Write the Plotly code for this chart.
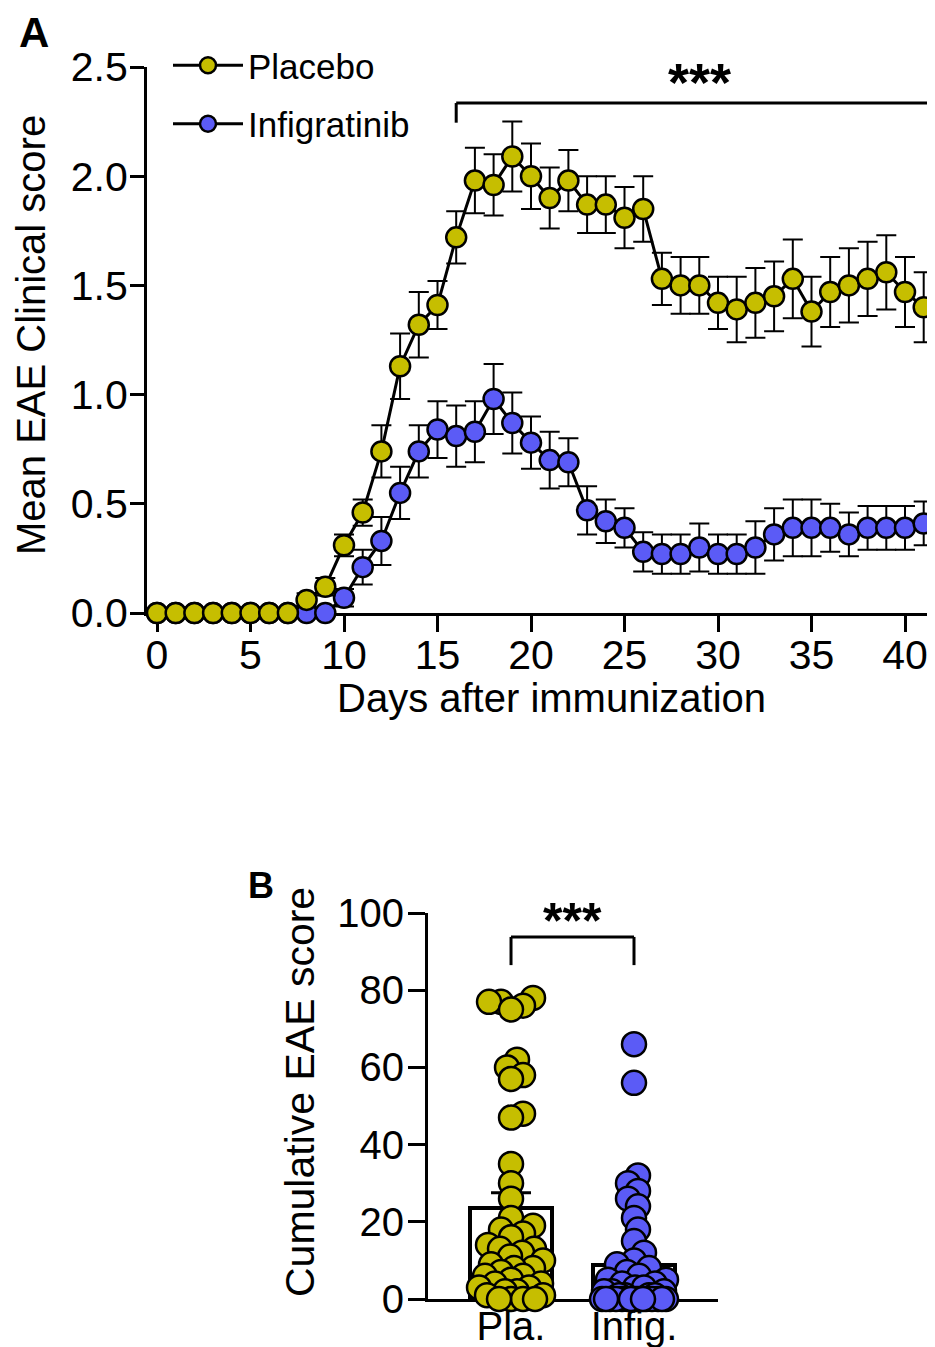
import numpy as np
import plotly.graph_objects as go

# ---------------- Data: panel A (mean clinical score +/- SEM) ----------------
days = list(range(42))
placebo_mean = [0, 0, 0, 0, 0, 0, 0, 0,
                0.06, 0.12, 0.31, 0.46, 0.74, 1.13, 1.32, 1.41, 1.72, 1.98, 1.96, 2.09,
                2.00, 1.90, 1.98, 1.87, 1.87, 1.81, 1.85, 1.53, 1.50, 1.50, 1.42, 1.39,
                1.42, 1.45, 1.53, 1.38, 1.47, 1.50, 1.53, 1.56, 1.47, 1.40]
placebo_sem = [0, 0, 0, 0, 0, 0, 0, 0,
               0.03, 0.04, 0.05, 0.06, 0.12, 0.15, 0.15, 0.11, 0.12, 0.15, 0.14, 0.16,
               0.15, 0.14, 0.14, 0.13, 0.13, 0.14, 0.15, 0.12, 0.13, 0.13, 0.12, 0.15,
               0.16, 0.16, 0.18, 0.16, 0.16, 0.17, 0.17, 0.17, 0.16, 0.16]
infig_mean = [0, 0, 0, 0, 0, 0, 0, 0, 0, 0,
              0.07, 0.21, 0.33, 0.55, 0.74, 0.84, 0.81, 0.83, 0.98, 0.87,
              0.78, 0.70, 0.69, 0.47, 0.42, 0.39, 0.28, 0.27, 0.27, 0.30, 0.27, 0.27,
              0.30, 0.36, 0.39, 0.39, 0.39, 0.36, 0.39, 0.39, 0.39, 0.41]
infig_sem = [0, 0, 0, 0, 0, 0, 0, 0, 0, 0,
             0.04, 0.08, 0.11, 0.12, 0.12, 0.13, 0.14, 0.14, 0.16, 0.14,
             0.12, 0.13, 0.11, 0.11, 0.10, 0.09, 0.09, 0.09, 0.09, 0.11, 0.09, 0.09,
             0.12, 0.12, 0.13, 0.13, 0.11, 0.10, 0.10, 0.10, 0.10, 0.10]
x_ticks_a = [0, 5, 10, 15, 20, 25, 30, 35, 40]
y_ticks_a = [0.0, 0.5, 1.0, 1.5, 2.0, 2.5]
sig_days = [16, 43]          # bracket span for *** in panel A

# ---------------- Data: panel B (cumulative score per animal) ----------------
groups = ["Pla.", "Infig."]
placebo_cum = [78, 77, 77, 76, 75, 62, 60, 58, 57, 48, 47, 35, 30, 26,
               21, 19, 18, 17, 16, 14, 13, 13, 12, 11, 10, 9, 8, 8, 7, 6, 6, 5,
               4, 4, 3, 3, 2, 2, 1, 1, 0, 0, 0, 0]
infig_cum = [66, 56, 32, 30, 28, 26, 24, 21, 18, 15, 12, 10, 9, 8, 7, 6, 5, 5,
             4, 4, 3, 3, 2, 2, 2, 1, 1, 1, 1,
             0, 0, 0, 0, 0, 0, 0, 0, 0, 0, 0, 0, 0, 0, 0, 0]
y_ticks_b = [0, 20, 40, 60, 80, 100]

# ---------------- Styling ----------------
W, H = 935, 1347
OFF = 8   # page body margin compensation
FONT = "Liberation Sans, Arial, sans-serif"
PLACEBO_COLOR = "#C6BE00"
INFIG_COLOR = "#5B5BF6"


def px_x(p):
    return (p - OFF) / W


def px_y(p):
    return 1 - (p - OFF) / H


# geometry of panels (target pixels)
A_left, A_right, A_top, A_bottom = 147, 943, 67, 613
B_left, B_right, B_top, B_bottom = 428, 718, 913, 1299
A_day0_px, A_px_per_day = 157, 18.7
A_xrange = [(A_left - A_day0_px) / A_px_per_day, (A_right - A_day0_px) / A_px_per_day]
B_xrange = [-0.675, 1.683]
B_yrange = [0, 100]


def swarm_offsets(vals, x_px_per_unit, y_px_per_unit, min_dist=12.0, max_off=32.0):
    """Deterministic beeswarm layout (horizontal offsets in data units)."""
    n = len(vals)
    offs = [0.0] * n
    placed = []
    order = sorted(range(n), key=lambda i: vals[i])
    cands = [0.0]
    k = 1
    while k <= max_off:
        cands += [float(k), float(-k)]
        k += 1
    for i in order:
        ypx = vals[i] * y_px_per_unit
        chosen = None
        for c in cands:
            if all((c - px) ** 2 + (ypx - py) ** 2 >= min_dist ** 2 for px, py in placed):
                chosen = c
                break
        if chosen is None:
            chosen = max(cands, key=lambda c: min((c - px) ** 2 + (ypx - py) ** 2 for px, py in placed))
        placed.append((chosen, ypx))
        offs[i] = chosen / x_px_per_unit
    return offs


bx_ppu = (B_right - B_left) / (B_xrange[1] - B_xrange[0])
by_ppu = (B_bottom - B_top) / (B_yrange[1] - B_yrange[0])

fig = go.Figure()

# ---- Panel A ----
fig.add_trace(go.Scatter(
    x=days, y=infig_mean, name="Infigratinib", mode="lines+markers",
    line=dict(color="black", width=3),
    marker=dict(size=20, color=INFIG_COLOR, line=dict(color="black", width=2.5)),
    error_y=dict(type="data", array=infig_sem, color="black", thickness=2, width=10),
    cliponaxis=False, legendgroup="inf", legendrank=2,
    xaxis="x", yaxis="y"))
fig.add_trace(go.Scatter(
    x=days, y=placebo_mean, name="Placebo", mode="lines+markers",
    line=dict(color="black", width=3),
    marker=dict(size=20, color=PLACEBO_COLOR, line=dict(color="black", width=2.5)),
    error_y=dict(type="data", array=placebo_sem, color="black", thickness=2, width=10),
    cliponaxis=False, legendgroup="pla", legendrank=1,
    xaxis="x", yaxis="y"))

# ---- Panel B ----
cum_data = [placebo_cum, infig_cum]
colors_b = [PLACEBO_COLOR, INFIG_COLOR]
means = [float(np.mean(v)) for v in cum_data]
sems = [float(np.std(v, ddof=1) / np.sqrt(len(v))) for v in cum_data]

fig.add_trace(go.Bar(
    x=[0, 1], y=means, width=0.667,
    marker=dict(color="rgba(0,0,0,0)", line=dict(color="black", width=4)),
    error_y=dict(type="data", array=sems, color="black", thickness=3, width=20),
    showlegend=False, xaxis="x2", yaxis="y2"))

for gi, vals in enumerate(cum_data):
    offs = swarm_offsets(vals, bx_ppu, by_ppu)
    fig.add_trace(go.Scatter(
        x=[gi + o for o in offs], y=vals, mode="markers",
        marker=dict(size=24, color=colors_b[gi], line=dict(color="black", width=2.5)),
        cliponaxis=False, showlegend=False, xaxis="x2", yaxis="y2"))

axis_common = dict(showline=True, linecolor="black", linewidth=3, ticks="outside",
                   tickwidth=3, tickcolor="black", showgrid=False,
                   zeroline=False, layer="below traces")

fig.update_layout(
    width=W, height=H,
    margin=dict(l=0, r=0, t=0, b=0, autoexpand=False),
    paper_bgcolor="white", plot_bgcolor="white",
    font=dict(family=FONT, color="black"),
    bargap=0,
    xaxis=dict(domain=[px_x(A_left), min(1.0, px_x(A_right))], range=A_xrange,
               tickvals=x_ticks_a, anchor="y", ticklen=16, ticklabelstandoff=-12,
               tickfont=dict(family=FONT, size=41, color="black"), **axis_common),
    yaxis=dict(domain=[px_y(A_bottom), px_y(A_top)], range=[0, 2.5],
               tickvals=y_ticks_a, tickformat=".1f", anchor="x", ticklen=14,
               ticklabelstandoff=-6,
               tickfont=dict(family=FONT, size=41, color="black"), **axis_common),
    xaxis2=dict(domain=[px_x(B_left), px_x(B_right)], range=B_xrange,
                tickvals=[0, 1], ticktext=groups, anchor="y2", ticklen=0,
                ticklabelstandoff=-10,
                tickfont=dict(family=FONT, size=40, color="black"),
                **{**axis_common, "ticks": ""}),
    yaxis2=dict(domain=[px_y(B_bottom), px_y(B_top)], range=B_yrange,
                tickvals=y_ticks_b, anchor="x2", ticklen=17, ticklabelstandoff=-4,
                tickfont=dict(family=FONT, size=40, color="black"), **axis_common),
    legend=dict(x=px_x(168), y=px_y(36), xanchor="left", yanchor="top",
                font=dict(family=FONT, size=35, color="black"),
                itemwidth=70, traceorder="grouped", tracegroupgap=10,
                bgcolor="rgba(0,0,0,0)"),
    showlegend=True,
)

# significance brackets
fig.add_shape(type="line", xref="x", yref="y", x0=sig_days[0], x1=sig_days[1],
              y0=2.335, y1=2.335, line=dict(color="black", width=3))
fig.add_shape(type="line", xref="x", yref="y", x0=sig_days[0], x1=sig_days[0],
              y0=2.335, y1=2.245, line=dict(color="black", width=3))
fig.add_annotation(x=29, y=2.43, xref="x", yref="y", text="<b>***</b>", showarrow=False,
                   xanchor="center", yanchor="middle",
                   font=dict(family=FONT, size=54, color="black"))

fig.add_shape(type="line", xref="x2", yref="y2", x0=0, x1=1, y0=93.8, y1=93.8,
              line=dict(color="black", width=3))
fig.add_shape(type="line", xref="x2", yref="y2", x0=0, x1=0, y0=93.8, y1=86.5,
              line=dict(color="black", width=3))
fig.add_shape(type="line", xref="x2", yref="y2", x0=1, x1=1, y0=93.8, y1=86.5,
              line=dict(color="black", width=3))
fig.add_annotation(x=0.5, y=97.9, xref="x2", yref="y2", text="<b>***</b>", showarrow=False,
                   xanchor="center", yanchor="middle",
                   font=dict(family=FONT, size=50, color="black"))

# axis titles and panel letters
title_font = dict(family=FONT, size=40, color="black")
fig.add_annotation(x=px_x(31), y=px_y(335), xref="paper", yref="paper",
                   text="Mean EAE Clinical score", textangle=-90, showarrow=False,
                   xanchor="center", yanchor="middle", font=title_font)
fig.add_annotation(x=px_x(551), y=px_y(698), xref="paper", yref="paper",
                   text="Days after immunization", showarrow=False,
                   xanchor="center", yanchor="middle", font=title_font)
fig.add_annotation(x=px_x(300), y=px_y(1092), xref="paper", yref="paper",
                   text="Cumulative EAE score", textangle=-90, showarrow=False,
                   xanchor="center", yanchor="middle",
                   font=dict(family=FONT, size=41, color="black"))
fig.add_annotation(x=px_x(34), y=px_y(32), xref="paper", yref="paper",
                   text="<b>A</b>", showarrow=False, xanchor="center", yanchor="middle",
                   font=dict(family=FONT, size=42, color="black"))
fig.add_annotation(x=px_x(261), y=px_y(885), xref="paper", yref="paper",
                   text="<b>B</b>", showarrow=False, xanchor="center", yanchor="middle",
                   font=dict(family=FONT, size=36, color="black"))

fig.write_html("out.html")
